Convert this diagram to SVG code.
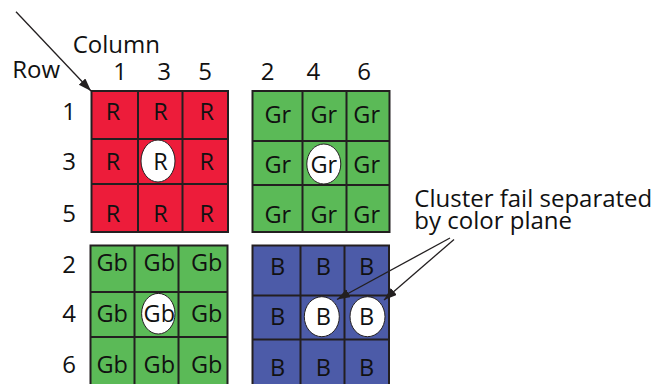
<svg xmlns="http://www.w3.org/2000/svg" width="653" height="384" viewBox="0 0 653 384">
<style>
text{font-family:"Open Sans","Noto Sans","Liberation Sans",sans-serif;font-size:24px;fill:#111}
.c{text-anchor:middle}
.cell{font-size:23.5px}
.grid{fill:none;stroke:#231f20;stroke-width:2}
.red{fill:#ed1c3a}
.grn{fill:#5bba57}
.blu{fill:#4c5ba8}
.hole{fill:#fff;stroke:#231f20;stroke-width:1}
.conn{stroke:#231f20;stroke-width:1.3;fill:none}
</style>
<defs>
<marker id="ah" markerUnits="userSpaceOnUse" markerWidth="14" markerHeight="10" refX="13" refY="4.5" orient="auto">
<path d="M0,0 L13,4.5 L0,9 z" fill="#231f20"/>
</marker>
</defs>
<rect width="653" height="384" fill="#fff"/>
<g id="labels">
<text x="72.7" y="52.7">Column</text>
<text x="12.3" y="78.3">Row</text>
<text class="c" x="120" y="80">1</text>
<text class="c" x="164" y="80">3</text>
<text class="c" x="205" y="80">5</text>
<text class="c" x="267.5" y="80">2</text>
<text class="c" x="313.3" y="80">4</text>
<text class="c" x="364.2" y="80">6</text>
<text class="c" x="69" y="120">1</text>
<text class="c" x="69" y="170">3</text>
<text class="c" x="69" y="221.7">5</text>
<text class="c" x="69" y="272.7">2</text>
<text class="c" x="69" y="321.7">4</text>
<text class="c" x="69" y="373.3">6</text>
</g>
<g id="plane-r" class="cell">
<rect class="red" x="91.5" y="91" width="136.5" height="141"/>
<path class="grid" d="M138,91V232M182.5,91V232M91.5,139H228M91.5,184H228"/>
<rect class="grid" x="91.5" y="91" width="136.5" height="141"/>
<ellipse class="hole" cx="158" cy="161" rx="17" ry="21"/>
<text class="c cell" x="113" y="120">R</text><text class="c cell" x="160.5" y="120">R</text><text class="c cell" x="206.7" y="120">R</text>
<text class="c cell" x="113" y="170">R</text><text class="c cell" x="160.5" y="170">R</text><text class="c cell" x="206.7" y="170">R</text>
<text class="c cell" x="113" y="221.7">R</text><text class="c cell" x="160.5" y="221.7">R</text><text class="c cell" x="206.7" y="221.7">R</text>
</g>
<g id="plane-gr">
<rect class="grn" x="252.5" y="91" width="137" height="141"/>
<path class="grid" d="M302.5,91V232M346.5,91V232M252.5,141H389.5M252.5,185H389.5"/>
<rect class="grid" x="252.5" y="91" width="137" height="141"/>
<ellipse class="hole" cx="323.8" cy="164" rx="17" ry="20"/>
<text class="c cell" x="277.8" y="122.7">Gr</text><text class="c cell" x="323.8" y="122.7">Gr</text><text class="c cell" x="366.7" y="122.7">Gr</text>
<text class="c cell" x="277.8" y="173.3">Gr</text><text class="c cell" x="323.8" y="173.3">Gr</text><text class="c cell" x="366.7" y="173.3">Gr</text>
<text class="c cell" x="277.8" y="223.3">Gr</text><text class="c cell" x="323.8" y="223.3">Gr</text><text class="c cell" x="366.7" y="223.3">Gr</text>
</g>
<g id="plane-gb">
<rect class="grn" x="90.5" y="245.5" width="137" height="150"/>
<path class="grid" d="M134.5,245.5V396M178.5,245.5V396M90.5,292H227.5M90.5,337H227.5"/>
<rect class="grid" x="90.5" y="245.5" width="137" height="150"/>
<ellipse class="hole" cx="158.3" cy="313.7" rx="16.7" ry="20.3"/>
<text class="c cell" x="112.2" y="270.7">Gb</text><text class="c cell" x="159.3" y="270.7">Gb</text><text class="c cell" x="206.7" y="270.7">Gb</text>
<text class="c cell" x="112.2" y="321.7">Gb</text><text class="c cell" x="159.3" y="321.7">Gb</text><text class="c cell" x="206.7" y="321.7">Gb</text>
<text class="c cell" x="112.2" y="372.7">Gb</text><text class="c cell" x="159.3" y="372.7">Gb</text><text class="c cell" x="206.7" y="372.7">Gb</text>
</g>
<g id="plane-b">
<rect class="blu" x="252.5" y="245.5" width="136.5" height="150"/>
<path class="grid" d="M300.5,245.5V396M344.5,245.5V396M252.5,295.5H389M252.5,339.5H389"/>
<rect class="grid" x="252.5" y="245.5" width="136.5" height="150"/>
<ellipse class="hole" cx="321.8" cy="316.7" rx="17.5" ry="20"/>
<ellipse class="hole" cx="367.5" cy="316.7" rx="17.5" ry="20"/>
<text class="c cell" x="277.5" y="275">B</text><text class="c cell" x="323.3" y="275">B</text><text class="c cell" x="366.5" y="275">B</text>
<text class="c cell" x="277.5" y="325">B</text><text class="c cell" x="323.3" y="325">B</text><text class="c cell" x="366.5" y="325">B</text>
<text class="c cell" x="277.5" y="376">B</text><text class="c cell" x="323.3" y="376">B</text><text class="c cell" x="366.5" y="376">B</text>
</g>
<g id="note">
<text x="414.3" y="206.7">Cluster fail separated</text>
<text x="414.3" y="229">by color plane</text>
</g>
<g id="connectors">
<line class="conn" x1="16" y1="11.7" x2="91" y2="91" marker-end="url(#ah)"/>
<line class="conn" x1="450" y1="238" x2="337" y2="299.5" marker-end="url(#ah)"/>
<line class="conn" x1="454" y1="239.5" x2="384" y2="300" marker-end="url(#ah)"/>
</g>
</svg>
